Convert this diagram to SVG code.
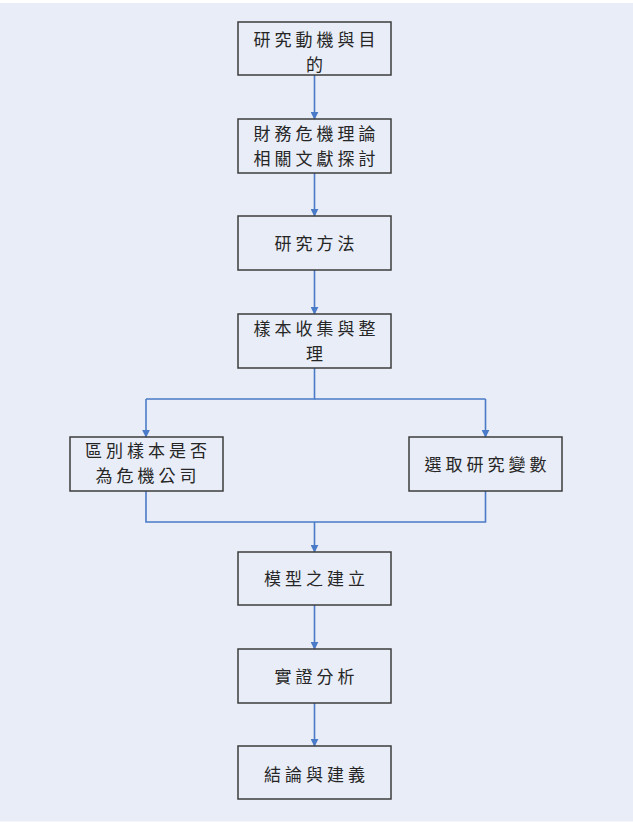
<svg xmlns="http://www.w3.org/2000/svg" width="633" height="827" viewBox="0 0 633 827">
<defs>
<style>
.box{fill:none;stroke:#3c3c3c;stroke-width:1.5}
.t{font-family:"Noto Sans CJK TC","Noto Sans CJK SC",sans-serif;font-size:17px;fill:#262626;text-anchor:middle;letter-spacing:4px}
.c{fill:none;stroke:#4a7bc8;stroke-width:1.6}
</style>
<marker id="ah" viewBox="0 0 10 10" refX="9" refY="5" markerWidth="8" markerHeight="8" markerUnits="userSpaceOnUse" orient="auto">
<path d="M0,0 L10,5 L0,10 z" fill="#4a7bc8"/>
</marker>
</defs>
<rect x="0" y="0" width="633" height="827" fill="#ffffff"/>
<rect x="0" y="3" width="633" height="818.5" fill="#e9edf7"/>
<g id="connectors">
<line class="c" x1="314.5" y1="75" x2="314.5" y2="119" marker-end="url(#ah)"/>
<line class="c" x1="314.5" y1="173" x2="314.5" y2="216" marker-end="url(#ah)"/>
<line class="c" x1="314.5" y1="270" x2="314.5" y2="314" marker-end="url(#ah)"/>
<polyline class="c" points="314.5,368 314.5,399 146,399"/>
<polyline class="c" points="314.5,399 485.5,399"/>
<line class="c" x1="146" y1="399" x2="146" y2="437" marker-end="url(#ah)"/>
<line class="c" x1="485.5" y1="399" x2="485.5" y2="437" marker-end="url(#ah)"/>
<polyline class="c" points="146,491 146,522 485.5,522 485.5,491"/>
<line class="c" x1="314.5" y1="522" x2="314.5" y2="552" marker-end="url(#ah)"/>
<line class="c" x1="314.5" y1="605" x2="314.5" y2="649" marker-end="url(#ah)"/>
<line class="c" x1="314.5" y1="703" x2="314.5" y2="746" marker-end="url(#ah)"/>
</g>
<g id="n1"><rect class="box" x="238" y="22" width="153" height="53"/>
<text class="t" x="316.5" y="46">研究動機與目</text><text class="t" x="316.5" y="71">的</text></g>
<g id="n2"><rect class="box" x="238" y="119" width="153" height="54"/>
<text class="t" x="316.5" y="140">財務危機理論</text><text class="t" x="316.5" y="165">相關文獻探討</text></g>
<g id="n3"><rect class="box" x="238" y="216" width="153" height="54"/>
<text class="t" x="316.5" y="250">研究方法</text></g>
<g id="n4"><rect class="box" x="238" y="314" width="153" height="54"/>
<text class="t" x="316.5" y="335">樣本收集與整</text><text class="t" x="316.5" y="360">理</text></g>
<g id="n5"><rect class="box" x="70" y="437" width="153" height="54"/>
<text class="t" x="148" y="457">區別樣本是否</text><text class="t" x="148" y="482">為危機公司</text></g>
<g id="n6"><rect class="box" x="409" y="437" width="153" height="54"/>
<text class="t" x="487.5" y="471">選取研究變數</text></g>
<g id="n7"><rect class="box" x="238" y="552" width="153" height="53"/>
<text class="t" x="316.5" y="584.5">模型之建立</text></g>
<g id="n8"><rect class="box" x="238" y="649" width="153" height="54"/>
<text class="t" x="316.5" y="682.5">實證分析</text></g>
<g id="n9"><rect class="box" x="238" y="746" width="153" height="53"/>
<text class="t" x="316.5" y="781">結論與建義</text></g>
</svg>
